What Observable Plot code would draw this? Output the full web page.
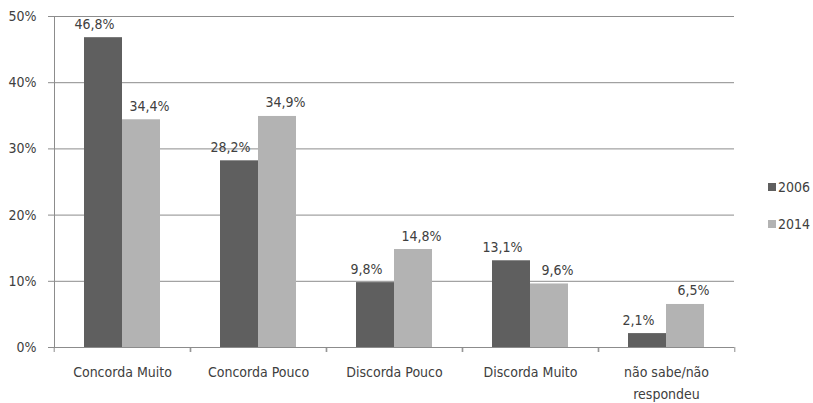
<!DOCTYPE html>
<html>
<head>
<meta charset="utf-8">
<script src="https://cdn.jsdelivr.net/npm/d3@7"></script>
<script src="https://cdn.jsdelivr.net/npm/@observablehq/plot@0.6"></script>
<style>
  html, body { margin: 0; padding: 0; background: #fff; }
  #chart { position: relative; width: 813px; height: 403px;
    font-family: "DejaVu Sans Condensed", "DejaVu Sans", sans-serif; font-stretch: condensed; }
  .legend { position: absolute; left: 768px; font-size: 14px; color: #404040; line-height: 16px; white-space: nowrap; }
  .legend span.sw { display: inline-block; width: 8px; height: 8px; margin-right: 2px; vertical-align: 1px; }
</style>
</head>
<body>
<div id="chart"></div>
<script>
// Survey answers, share of respondents (%) per year
const categories = ["Concorda Muito", "Concorda Pouco", "Discorda Pouco", "Discorda Muito", "não sabe/não respondeu"];
const tickLabels = ["Concorda Muito", "Concorda Pouco", "Discorda Pouco", "Discorda Muito", "não sabe/não\nrespondeu"];
const years = ["2006", "2014"];
const values2006 = [46.8, 28.2, 9.8, 13.1, 2.1];
const values2014 = [34.4, 34.9, 14.8, 9.6, 6.5];
const yTicks = [0, 10, 20, 30, 40, 50];
const colors = ["#5f5f5f", "#b3b3b3"];

const data = categories.flatMap((category, i) => [
  {category, year: years[0], value: values2006[i]},
  {category, year: years[1], value: values2014[i]}
]);

const fmt = v => d3.format(".1f")(v).replace(".", ",") + "%";

const width = 813, height = 403;
const margin = {top: 16, right: 78, bottom: 56, left: 52};
const halfStep = (width - margin.left - margin.right) / categories.length / 2;
const lineColor = "#8c8c8c";
const font = '"DejaVu Sans Condensed", "DejaVu Sans", sans-serif';

const plot = Plot.plot({
  width, height,
  marginTop: margin.top, marginRight: margin.right,
  marginBottom: margin.bottom, marginLeft: margin.left,
  style: {fontFamily: font, fontSize: "14px", color: "#404040", background: "#fff", fontStretch: "condensed"},
  fx: {domain: categories, padding: 0, label: null},
  x: {domain: years, paddingInner: 0, paddingOuter: 0.75, axis: null},
  y: {domain: [0, 50], label: null},
  color: {domain: years, range: colors},
  marks: [
    Plot.gridY(yTicks, {stroke: lineColor, strokeOpacity: 1}),
    Plot.frame({anchor: "left", facetAnchor: "left", stroke: lineColor}),
    Plot.axisY(yTicks, {tickSize: 6, tickPadding: 12, stroke: lineColor, tickFormat: d => d + "%", label: null}),
    Plot.axisFx({anchor: "bottom", tickSize: 0, tickPadding: 14, lineHeight: 1.55, label: null,
      tickFormat: d => tickLabels[categories.indexOf(d)]}),
    Plot.axisFx({anchor: "bottom", tickSize: 5, stroke: lineColor, tickFormat: () => "", label: null, dx: -halfStep}),
    Plot.axisFx([categories[categories.length - 1]], {anchor: "bottom", tickSize: 5, stroke: lineColor, tickFormat: () => "", label: null, dx: halfStep}),
    Plot.barY(data, {fx: "category", x: "year", y: "value", fill: "year"}),
    Plot.text(data.filter(d => d.year === years[0]), {fx: "category", x: "year", y: "value", text: d => fmt(d.value),
      lineAnchor: "bottom", dy: -9, dx: -9, fill: "#404040"}),
    Plot.text(data.filter(d => d.year === years[1]), {fx: "category", x: "year", y: "value", text: d => fmt(d.value),
      lineAnchor: "bottom", dy: -9, dx: 8, fill: "#404040"})
  ]
});

const chart = document.getElementById("chart");
chart.appendChild(plot);

// Legend to the right of the plot
const tops = [179, 216];
years.forEach((year, i) => {
  const item = document.createElement("div");
  item.className = "legend";
  item.style.top = tops[i] + "px";
  item.innerHTML = `<span class="sw" style="background:${colors[i]}"></span>${year}`;
  chart.appendChild(item);
});
</script>
</body>
</html>
